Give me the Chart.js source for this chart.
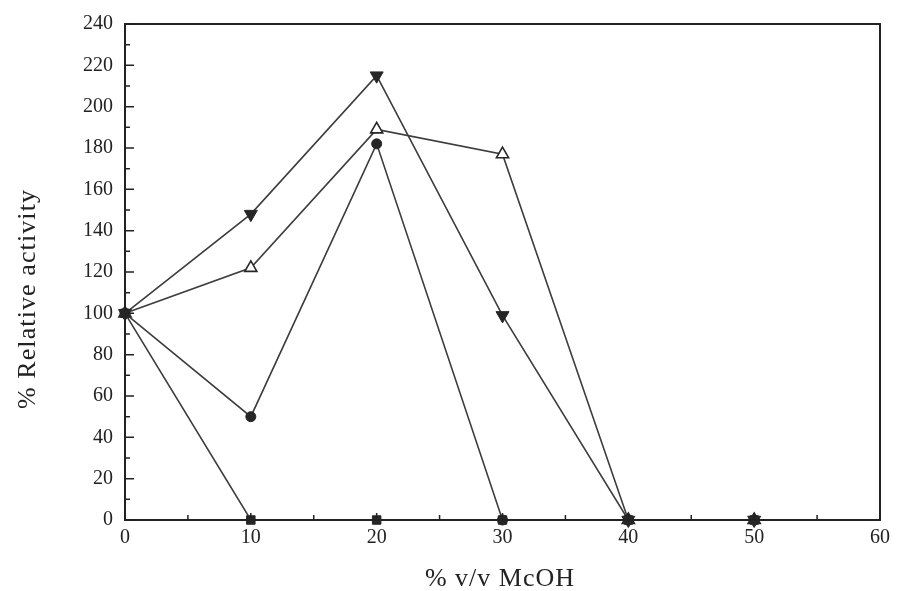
<!DOCTYPE html>
<html><head><meta charset="utf-8">
<script src="https://cdn.jsdelivr.net/npm/chart.js@4/dist/chart.umd.min.js"></script>
<style>html,body{margin:0;padding:0;background:#fff;}#wrap{width:899px;height:591px;}</style>
</head><body><div id="wrap"><canvas id="c" width="899" height="591"></canvas></div>
<script>
const xValues = [0, 10, 20, 30, 40, 50];
const downTriangle = [100, 148, 215, 99, 0, 0];
const openTriangle = [100, 122, 189, 177, 0, 0];
const filledCircle = [100, 50, 182, 0, 0, 0];
const filledSquare = [100, 0, 0, 0, 0, 0];
const xTickValues = [0, 10, 20, 30, 40, 50, 60];
const yTickValues = [0, 20, 40, 60, 80, 100, 120, 140, 160, 180, 200, 220, 240];
const xTitle = '% v/v McOH';
const yTitle = '% Relative activity';

const pts = arr => xValues.map((x, i) => ({x: x, y: arr[i]}));
const LINE = '#3c3c3c';
const MARK = '#262626';
const FONT = '"Liberation Serif", "Times New Roman", serif';

const frame = {
  id: 'frame',
  afterDraw(chart) {
    const ctx = chart.ctx, a = chart.chartArea;
    const xs = chart.scales.x, ys = chart.scales.y;
    ctx.save();
    ctx.strokeStyle = '#222';
    ctx.lineWidth = 2;
    ctx.strokeRect(a.left, a.top, a.right - a.left, a.bottom - a.top);
    ctx.lineWidth = 1.5;
    ctx.beginPath();
    for (let v = 0; v <= 240; v += 10) {
      const y = ys.getPixelForValue(v);
      const len = (v % 20 === 0) ? 9 : 5;
      ctx.moveTo(a.left, y); ctx.lineTo(a.left + len, y);
    }
    for (let v = 0; v <= 60; v += 5) {
      const x = xs.getPixelForValue(v);
      const len = (v % 10 === 0) ? 7 : 5;
      ctx.moveTo(x, a.bottom); ctx.lineTo(x, a.bottom - len);
    }
    ctx.stroke();
    // axis titles
    ctx.fillStyle = '#222';
    ctx.textAlign = 'center';
    ctx.textBaseline = 'middle';
    ctx.font = '26px ' + FONT;
    ctx.letterSpacing = '1px';
    ctx.fillText(xTitle, 500, 579);
    ctx.translate(28, 299);
    ctx.rotate(-Math.PI / 2);
    ctx.letterSpacing = '1.1px';
    ctx.fillText(yTitle, 0, 0);
    ctx.restore();
  }
};

const ds = (label, data, style, fill, radius, rot) => ({
  label, data: pts(data), showLine: true,
  borderColor: LINE, borderWidth: 1.6,
  pointStyle: style, pointRadius: radius, pointRotation: rot || 0,
  pointBackgroundColor: fill ? MARK : '#fff',
  pointBorderColor: MARK, pointBorderWidth: fill ? 1 : 1.6,
  clip: false
});

new Chart(document.getElementById('c'), {
  type: 'scatter',
  data: {
    datasets: [
      ds('square', filledSquare, 'rect', true, 6),
      ds('circle', filledCircle, 'circle', true, 5),
      ds('open triangle', openTriangle, 'triangle', false, 7),
      ds('down triangle', downTriangle, 'triangle', true, 7.5, 180)
    ]
  },
  options: {
    responsive: false,
    animation: false,
    layout: {padding: {top: 20, right: 19, left: 0, bottom: 0}},
    plugins: {legend: {display: false}, tooltip: {enabled: false}},
    scales: {
      x: {
        type: 'linear', min: 0, max: 60,
        afterBuildTicks: s => { s.ticks = xTickValues.map(v => ({value: v})); },
        afterFit: s => { s.height = 71; },
        grid: {display: false, drawTicks: false},
        border: {display: false},
        ticks: {color: '#222', font: {family: FONT, size: 20}, padding: 6, maxRotation: 0},
        title: {display: false}
      },
      y: {
        type: 'linear', min: 0, max: 240,
        afterBuildTicks: s => { s.ticks = yTickValues.map(v => ({value: v})); },
        afterFit: s => { s.width = 125; },
        grid: {display: false, drawTicks: false},
        border: {display: false},
        ticks: {color: '#222', font: {family: FONT, size: 20}, padding: 12},
        title: {display: false}
      }
    }
  },
  plugins: [frame]
});
</script></body></html>
